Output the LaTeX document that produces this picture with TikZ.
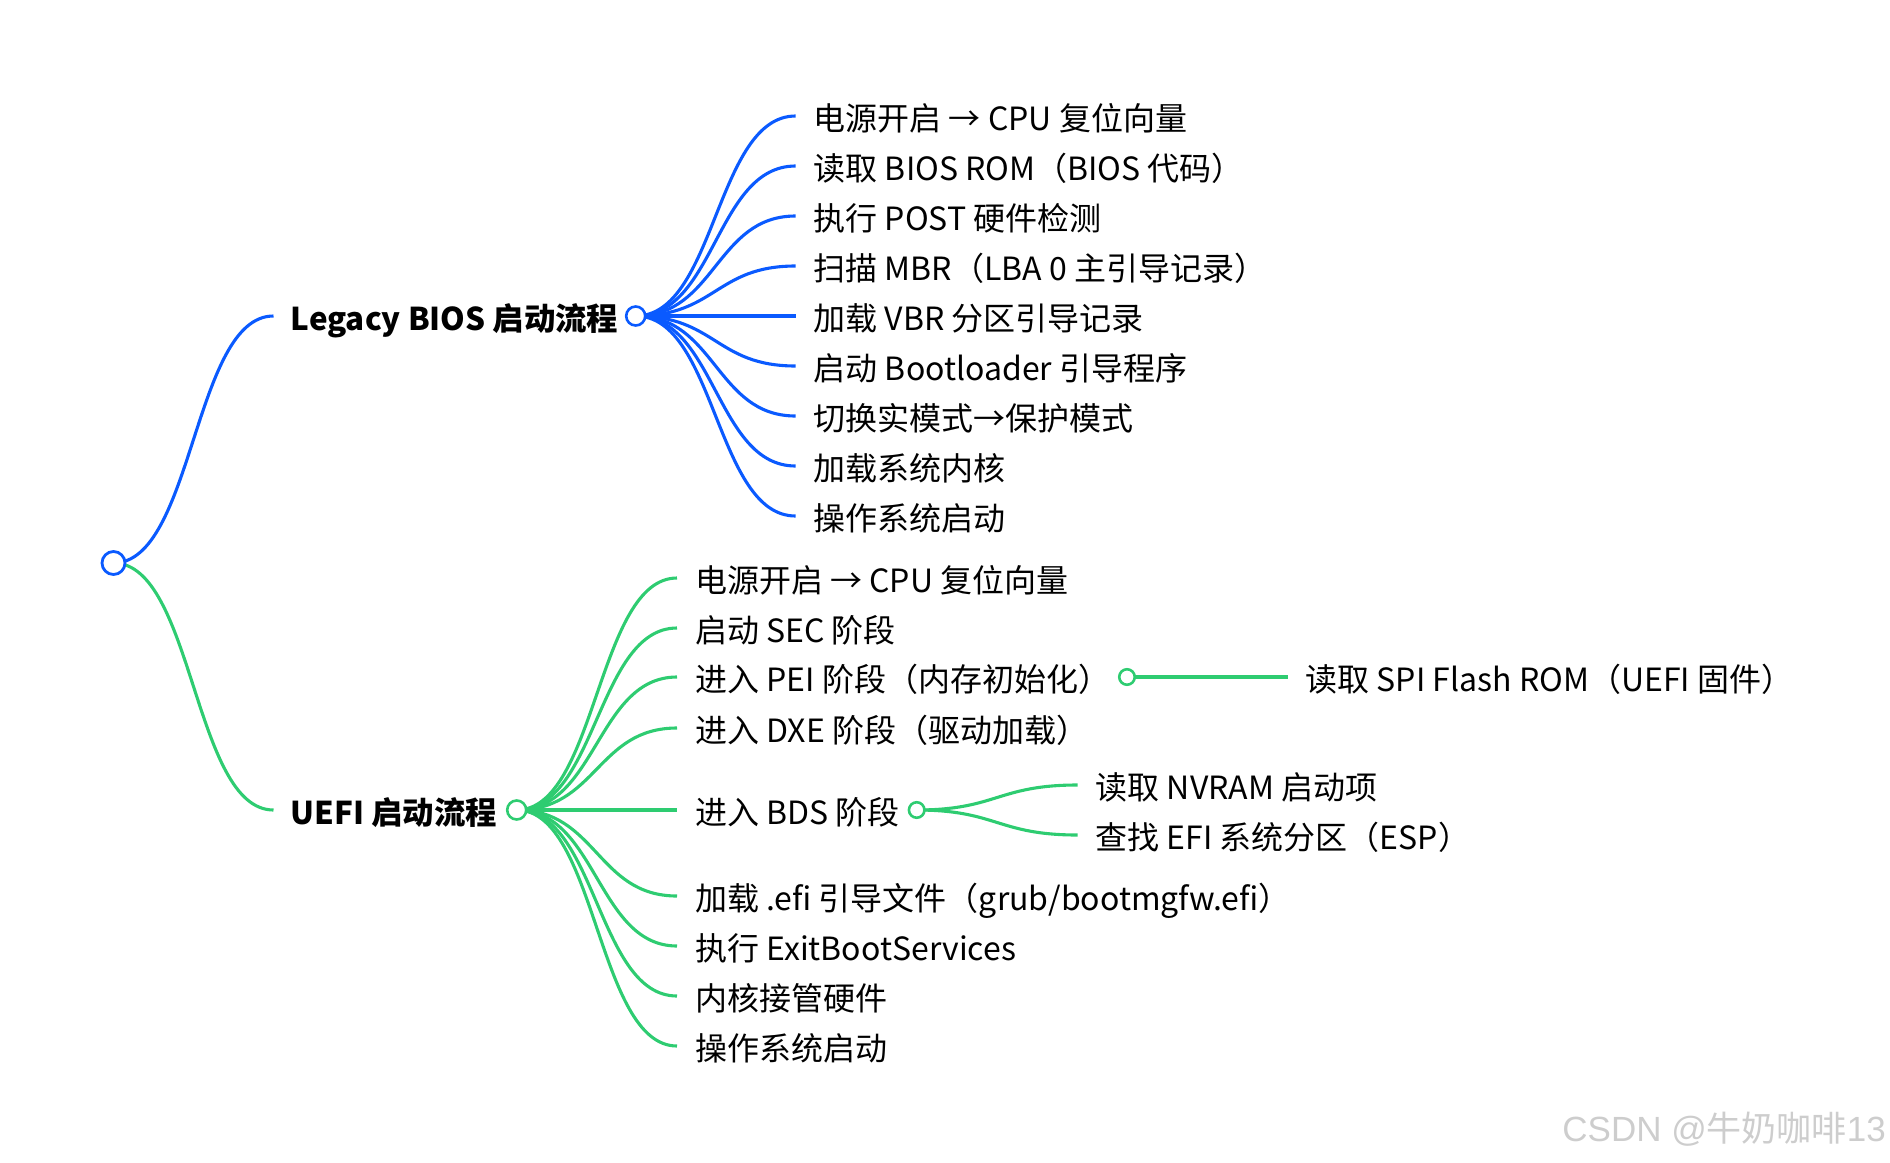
\documentclass[tikz,border=0pt]{standalone}
\usepackage{fontspec}
\setmainfont{Noto Sans CJK SC}
\newfontfamily\wmfont{Liberation Sans}
\usetikzlibrary{calc}
\definecolor{mmblue}{RGB}{10,90,255}
\definecolor{mmgreen}{RGB}{46,204,113}
\definecolor{wmgray}{RGB}{205,205,205}
\pgfdeclarelayer{background}
\pgfsetlayers{background,main}
\begin{document}
\begin{tikzpicture}[x=1pt,y=-1pt,
  lbl/.style={anchor=west, inner sep=0pt, font=\fontsize{32}{38}\selectfont, text height=30.5pt, text depth=1.5pt},
  blbl/.style={lbl, font=\fontsize{31.4}{38}\selectfont\bfseries},
  dotA/.style={circle, draw=#1, fill=white, line width=2.8pt, minimum size=23pt, inner sep=0pt},
  dotB/.style={circle, draw=#1, fill=white, line width=2.6pt, minimum size=19pt, inner sep=0pt},
  dotC/.style={circle, draw=#1, fill=white, line width=2.6pt, minimum size=15.5pt, inner sep=0pt},
  link/.style={line width=3.1pt},
  wm/.style={anchor=east, inner sep=0pt, text=wmgray, font=\fontsize{35}{40}\selectfont}
]
\useasboundingbox (0,0) rectangle (1890,1162);

% ---------- nodes ----------
\node[dotA=mmblue] (root) at (113.5,563) {};

\node[blbl] (bios) at (290.5,316) {Legacy BIOS 启动流程};
\node[dotB=mmblue] (biosc) at (635.7,316) {};
\node[blbl] (uefi) at (290.5,810) {UEFI 启动流程};
\node[dotB=mmgreen] (uefic) at (516.7,810) {};

\node[lbl] (b1) at (813.6,116) {电源开启 → CPU 复位向量};
\node[lbl] (b2) at (813.6,166) {读取 BIOS ROM（BIOS 代码）};
\node[lbl] (b3) at (813.6,216) {执行 POST 硬件检测};
\node[lbl] (b4) at (813.6,266) {扫描 MBR（LBA 0 主引导记录）};
\node[lbl] (b5) at (813.6,316) {加载 VBR 分区引导记录};
\node[lbl] (b6) at (813.6,366) {启动 Bootloader 引导程序};
\node[lbl] (b7) at (813.6,416) {切换实模式→保护模式};
\node[lbl] (b8) at (813.6,466) {加载系统内核};
\node[lbl] (b9) at (813.6,516) {操作系统启动};

\node[lbl] (u1) at (695,578) {电源开启 → CPU 复位向量};
\node[lbl] (u2) at (695,628) {启动 SEC 阶段};
\node[lbl] (u3) at (695,677) {进入 PEI 阶段（内存初始化）};
\node[lbl] (u4) at (695,728) {进入 DXE 阶段（驱动加载）};
\node[lbl] (u5) at (695,810) {进入 BDS 阶段};
\node[lbl] (u6) at (695,896) {加载 .efi 引导文件（grub/bootmgfw.efi）};
\node[lbl] (u7) at (695,946) {执行 ExitBootServices};
\node[lbl] (u8) at (695,996) {内核接管硬件};
\node[lbl] (u9) at (695,1046) {操作系统启动};

\node[dotC=mmgreen] (u3c) at (1127,677) {};
\node[lbl] (u31) at (1305.5,677) {读取 SPI Flash ROM（UEFI 固件）};
\node[dotC=mmgreen] (u5c) at (916.7,810) {};
\node[lbl] (u51) at (1095.5,785) {读取 NVRAM 启动项};
\node[lbl] (u52) at (1095.5,835) {查找 EFI 系统分区（ESP）};

\node[wm] (wmark) at (1886,1129) {{\wmfont CSDN @}牛奶咖啡{\wmfont 13}};

% ---------- links ----------
\begin{pgfonlayer}{background}
\draw[link, mmblue] (root.center) .. controls +(80,0) and +(-80,0) .. ([xshift=-17pt]bios.west);
\draw[link, mmgreen] (root.center) .. controls +(80,0) and +(-80,0) .. ([xshift=-17pt]uefi.west);
\foreach \n in {b1,b2,b3,b4,b5,b6,b7,b8,b9}{
  \draw[link, mmblue] (biosc.center) .. controls +(80,0) and +(-80,0) .. ([xshift=-18pt]\n.west);
}
\foreach \n in {u1,u2,u3,u4,u5,u6,u7,u8,u9}{
  \draw[link, mmgreen] (uefic.center) .. controls +(80,0) and +(-80,0) .. ([xshift=-18pt]\n.west);
}
\draw[link, mmgreen] (u3c.center) .. controls +(80,0) and +(-80,0) .. ([xshift=-18pt]u31.west);
\foreach \n in {u51,u52}{
  \draw[link, mmgreen] (u5c.center) .. controls +(80,0) and +(-80,0) .. ([xshift=-18pt]\n.west);
}
\end{pgfonlayer}
\end{tikzpicture}
\end{document}
